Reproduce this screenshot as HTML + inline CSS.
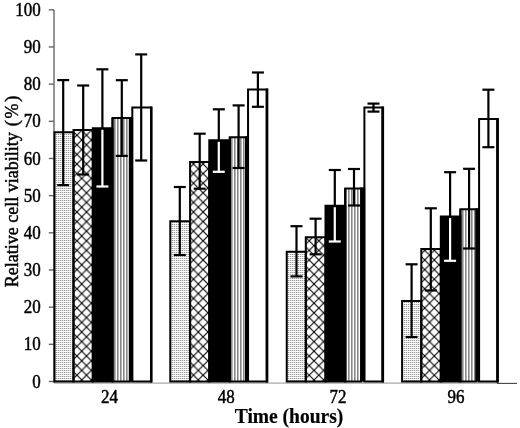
<!DOCTYPE html>
<html><head><meta charset="utf-8"><style>
html,body{margin:0;padding:0;background:#fff;}
body{width:520px;height:428px;overflow:hidden;}
svg{display:block;will-change:transform;}
text{font-family:"Liberation Serif",serif;font-size:17.5px;fill:#000;stroke:#000;stroke-width:0.45px;}
</style></head><body>
<svg width="520" height="428" viewBox="0 0 520 428">
<defs>
<pattern id="dots" patternUnits="userSpaceOnUse" width="2" height="2">
<rect width="2" height="2" fill="#fff"/><rect x="0" y="0" width="2" height="1" fill="#e0e0e0"/><rect x="0" y="0" width="1" height="1" fill="#9a9a9a"/>
</pattern>
<pattern id="cross0" patternUnits="userSpaceOnUse" width="9.6" height="9.6" x="76.90" y="0.8"><rect width="9.6" height="9.6" fill="#fff"/><path d="M-1,-1 L10.6,10.6 M10.6,-1 L-1,10.6" stroke="#000" stroke-width="1.1"/></pattern>
<pattern id="cross1" patternUnits="userSpaceOnUse" width="9.6" height="9.6" x="193.50" y="0.8"><rect width="9.6" height="9.6" fill="#fff"/><path d="M-1,-1 L10.6,10.6 M10.6,-1 L-1,10.6" stroke="#000" stroke-width="1.1"/></pattern>
<pattern id="cross2" patternUnits="userSpaceOnUse" width="9.6" height="9.6" x="309.20" y="0.8"><rect width="9.6" height="9.6" fill="#fff"/><path d="M-1,-1 L10.6,10.6 M10.6,-1 L-1,10.6" stroke="#000" stroke-width="1.1"/></pattern>
<pattern id="cross3" patternUnits="userSpaceOnUse" width="9.6" height="9.6" x="424.70" y="0.8"><rect width="9.6" height="9.6" fill="#fff"/><path d="M-1,-1 L10.6,10.6 M10.6,-1 L-1,10.6" stroke="#000" stroke-width="1.1"/></pattern>

<pattern id="stripes" patternUnits="userSpaceOnUse" width="3" height="10">
<rect width="3" height="10" fill="#fff"/><rect x="0" y="0" width="1.6" height="10" fill="#888"/>
</pattern>
</defs>
<rect width="520" height="428" fill="#fff"/>
<line x1="54" y1="9.8" x2="54" y2="383" stroke="#7a7a7a" stroke-width="1.6"/>
<line x1="54" y1="383.1" x2="498" y2="383.1" stroke="#aaa" stroke-width="1.1"/>
<line x1="497" y1="383.4" x2="517" y2="383.4" stroke="#444" stroke-width="1.1"/>
<line x1="48.8" y1="9.80" x2="54" y2="9.80" stroke="#666" stroke-width="1.4"/>
<line x1="48.8" y1="46.97" x2="54" y2="46.97" stroke="#666" stroke-width="1.4"/>
<line x1="48.8" y1="84.14" x2="54" y2="84.14" stroke="#666" stroke-width="1.4"/>
<line x1="48.8" y1="121.31" x2="54" y2="121.31" stroke="#666" stroke-width="1.4"/>
<line x1="48.8" y1="158.48" x2="54" y2="158.48" stroke="#666" stroke-width="1.4"/>
<line x1="48.8" y1="195.65" x2="54" y2="195.65" stroke="#666" stroke-width="1.4"/>
<line x1="48.8" y1="232.82" x2="54" y2="232.82" stroke="#666" stroke-width="1.4"/>
<line x1="48.8" y1="269.99" x2="54" y2="269.99" stroke="#666" stroke-width="1.4"/>
<line x1="48.8" y1="307.16" x2="54" y2="307.16" stroke="#666" stroke-width="1.4"/>
<line x1="48.8" y1="344.33" x2="54" y2="344.33" stroke="#666" stroke-width="1.4"/>
<line x1="48.8" y1="381.50" x2="54" y2="381.50" stroke="#666" stroke-width="1.4"/>
<rect x="54.50" y="132.30" width="19.00" height="249.30" fill="url(#dots)"/>
<rect x="73.50" y="129.90" width="19.30" height="251.70" fill="url(#cross0)"/>
<rect x="92.80" y="128.30" width="19.70" height="253.30" fill="#000"/>
<rect x="112.50" y="118.10" width="17.30" height="263.50" fill="url(#stripes)"/>
<rect x="132.30" y="107.50" width="18.70" height="274.10" fill="#fff"/>
<rect x="111.50" y="118.10" width="2.00" height="263.50" fill="#000"/>
<path d="M54.50,381.60 V132.30 H73.50 V381.60 Z" fill="none" stroke="#000" stroke-width="2.0"/>
<path d="M73.50,381.60 V129.90 H92.80 V381.60 Z" fill="none" stroke="#000" stroke-width="2.0"/>
<path d="M92.80,381.60 V128.30 H112.50 V381.60 Z" fill="none" stroke="#000" stroke-width="2.0"/>
<path d="M112.50,381.60 V118.10 H129.80 V381.60 Z" fill="none" stroke="#000" stroke-width="2.0"/>
<path d="M132.30,381.60 V107.50 H151.00 V381.60 Z" fill="none" stroke="#000" stroke-width="2.0"/>
<line x1="151.30" y1="106.50" x2="151.30" y2="382.60" stroke="#000" stroke-width="2.6"/>
<rect x="129.00" y="117.10" width="4.10" height="264.50" fill="#000"/>
<rect x="170.30" y="221.20" width="19.80" height="160.40" fill="url(#dots)"/>
<rect x="190.10" y="161.90" width="19.20" height="219.70" fill="url(#cross1)"/>
<rect x="209.30" y="140.30" width="20.50" height="241.30" fill="#000"/>
<rect x="229.80" y="137.20" width="16.20" height="244.40" fill="url(#stripes)"/>
<rect x="248.05" y="89.60" width="18.70" height="292.00" fill="#fff"/>
<rect x="228.80" y="137.20" width="2.00" height="244.40" fill="#000"/>
<path d="M170.30,381.60 V221.20 H190.10 V381.60 Z" fill="none" stroke="#000" stroke-width="2.0"/>
<path d="M190.10,381.60 V161.90 H209.30 V381.60 Z" fill="none" stroke="#000" stroke-width="2.0"/>
<path d="M209.30,381.60 V140.30 H229.80 V381.60 Z" fill="none" stroke="#000" stroke-width="2.0"/>
<path d="M229.80,381.60 V137.20 H246.00 V381.60 Z" fill="none" stroke="#000" stroke-width="2.0"/>
<path d="M248.05,381.60 V89.60 H266.75 V381.60 Z" fill="none" stroke="#000" stroke-width="2.0"/>
<line x1="267.05" y1="88.60" x2="267.05" y2="382.60" stroke="#000" stroke-width="2.6"/>
<rect x="245.20" y="136.20" width="3.65" height="245.40" fill="#000"/>
<rect x="286.75" y="251.70" width="19.05" height="129.90" fill="url(#dots)"/>
<rect x="305.80" y="237.20" width="19.70" height="144.40" fill="url(#cross2)"/>
<rect x="325.50" y="205.70" width="19.70" height="175.90" fill="#000"/>
<rect x="345.20" y="188.40" width="16.00" height="193.20" fill="url(#stripes)"/>
<rect x="364.40" y="107.40" width="18.10" height="274.20" fill="#fff"/>
<rect x="344.20" y="188.40" width="2.05" height="193.20" fill="#000"/>
<path d="M286.75,381.60 V251.70 H305.80 V381.60 Z" fill="none" stroke="#000" stroke-width="2.0"/>
<path d="M305.80,381.60 V237.20 H325.50 V381.60 Z" fill="none" stroke="#000" stroke-width="2.0"/>
<path d="M325.50,381.60 V205.70 H345.20 V381.60 Z" fill="none" stroke="#000" stroke-width="2.0"/>
<path d="M345.20,381.60 V188.40 H361.20 V381.60 Z" fill="none" stroke="#000" stroke-width="2.0"/>
<path d="M364.40,381.60 V107.40 H382.50 V381.60 Z" fill="none" stroke="#000" stroke-width="2.0"/>
<line x1="382.80" y1="106.40" x2="382.80" y2="382.60" stroke="#000" stroke-width="2.6"/>
<rect x="360.40" y="187.40" width="4.80" height="194.20" fill="#000"/>
<rect x="402.10" y="301.00" width="19.20" height="80.60" fill="url(#dots)"/>
<rect x="421.30" y="249.10" width="19.50" height="132.50" fill="url(#cross3)"/>
<rect x="440.80" y="216.60" width="19.60" height="165.00" fill="#000"/>
<rect x="460.40" y="209.20" width="16.00" height="172.40" fill="url(#stripes)"/>
<rect x="479.10" y="119.00" width="18.20" height="262.60" fill="#fff"/>
<rect x="459.40" y="209.20" width="2.00" height="172.40" fill="#000"/>
<path d="M402.10,381.60 V301.00 H421.30 V381.60 Z" fill="none" stroke="#000" stroke-width="2.0"/>
<path d="M421.30,381.60 V249.10 H440.80 V381.60 Z" fill="none" stroke="#000" stroke-width="2.0"/>
<path d="M440.80,381.60 V216.60 H460.40 V381.60 Z" fill="none" stroke="#000" stroke-width="2.0"/>
<path d="M460.40,381.60 V209.20 H476.40 V381.60 Z" fill="none" stroke="#000" stroke-width="2.0"/>
<path d="M479.10,381.60 V119.00 H497.30 V381.60 Z" fill="none" stroke="#000" stroke-width="2.0"/>
<line x1="497.60" y1="118.00" x2="497.60" y2="382.60" stroke="#000" stroke-width="2.6"/>
<rect x="475.60" y="208.20" width="4.30" height="173.40" fill="#000"/>
<line x1="63.20" y1="80.10" x2="63.20" y2="185.10" stroke="#000" stroke-width="2.2"/>
<line x1="57.20" y1="80.10" x2="69.20" y2="80.10" stroke="#000" stroke-width="2.2"/>
<line x1="57.20" y1="185.10" x2="69.20" y2="185.10" stroke="#000" stroke-width="2.2"/>
<line x1="83.20" y1="85.50" x2="83.20" y2="174.50" stroke="#000" stroke-width="2.2"/>
<line x1="77.20" y1="85.50" x2="89.20" y2="85.50" stroke="#000" stroke-width="2.2"/>
<line x1="77.20" y1="174.50" x2="89.20" y2="174.50" stroke="#000" stroke-width="2.2"/>
<line x1="102.40" y1="69.30" x2="102.40" y2="128.30" stroke="#000" stroke-width="2.2"/>
<line x1="96.40" y1="69.30" x2="108.40" y2="69.30" stroke="#000" stroke-width="2.2"/>
<line x1="102.40" y1="129.80" x2="102.40" y2="186.50" stroke="#fff" stroke-width="2.2"/>
<line x1="96.40" y1="186.50" x2="108.40" y2="186.50" stroke="#fff" stroke-width="2.2"/>
<line x1="121.80" y1="80.20" x2="121.80" y2="155.90" stroke="#000" stroke-width="2.2"/>
<line x1="115.80" y1="80.20" x2="127.80" y2="80.20" stroke="#000" stroke-width="2.2"/>
<line x1="115.80" y1="155.90" x2="127.80" y2="155.90" stroke="#000" stroke-width="2.2"/>
<line x1="141.20" y1="54.40" x2="141.20" y2="160.50" stroke="#000" stroke-width="2.2"/>
<line x1="135.20" y1="54.40" x2="147.20" y2="54.40" stroke="#000" stroke-width="2.2"/>
<line x1="135.20" y1="160.50" x2="147.20" y2="160.50" stroke="#000" stroke-width="2.2"/>
<line x1="179.80" y1="187.00" x2="179.80" y2="255.00" stroke="#000" stroke-width="2.2"/>
<line x1="173.80" y1="187.00" x2="185.80" y2="187.00" stroke="#000" stroke-width="2.2"/>
<line x1="173.80" y1="255.00" x2="185.80" y2="255.00" stroke="#000" stroke-width="2.2"/>
<line x1="199.70" y1="133.70" x2="199.70" y2="188.70" stroke="#000" stroke-width="2.2"/>
<line x1="193.70" y1="133.70" x2="205.70" y2="133.70" stroke="#000" stroke-width="2.2"/>
<line x1="193.70" y1="188.70" x2="205.70" y2="188.70" stroke="#000" stroke-width="2.2"/>
<line x1="218.80" y1="109.30" x2="218.80" y2="140.30" stroke="#000" stroke-width="2.2"/>
<line x1="212.80" y1="109.30" x2="224.80" y2="109.30" stroke="#000" stroke-width="2.2"/>
<line x1="218.80" y1="141.80" x2="218.80" y2="171.80" stroke="#fff" stroke-width="2.2"/>
<line x1="212.80" y1="171.80" x2="224.80" y2="171.80" stroke="#fff" stroke-width="2.2"/>
<line x1="238.60" y1="105.40" x2="238.60" y2="168.00" stroke="#000" stroke-width="2.2"/>
<line x1="232.60" y1="105.40" x2="244.60" y2="105.40" stroke="#000" stroke-width="2.2"/>
<line x1="232.60" y1="168.00" x2="244.60" y2="168.00" stroke="#000" stroke-width="2.2"/>
<line x1="257.90" y1="72.50" x2="257.90" y2="106.80" stroke="#000" stroke-width="2.2"/>
<line x1="251.90" y1="72.50" x2="263.90" y2="72.50" stroke="#000" stroke-width="2.2"/>
<line x1="251.90" y1="106.80" x2="263.90" y2="106.80" stroke="#000" stroke-width="2.2"/>
<line x1="296.50" y1="226.20" x2="296.50" y2="276.40" stroke="#000" stroke-width="2.2"/>
<line x1="290.50" y1="226.20" x2="302.50" y2="226.20" stroke="#000" stroke-width="2.2"/>
<line x1="290.50" y1="276.40" x2="302.50" y2="276.40" stroke="#000" stroke-width="2.2"/>
<line x1="315.60" y1="218.70" x2="315.60" y2="254.30" stroke="#000" stroke-width="2.2"/>
<line x1="309.60" y1="218.70" x2="321.60" y2="218.70" stroke="#000" stroke-width="2.2"/>
<line x1="309.60" y1="254.30" x2="321.60" y2="254.30" stroke="#000" stroke-width="2.2"/>
<line x1="334.80" y1="170.00" x2="334.80" y2="205.70" stroke="#000" stroke-width="2.2"/>
<line x1="328.80" y1="170.00" x2="340.80" y2="170.00" stroke="#000" stroke-width="2.2"/>
<line x1="334.80" y1="207.20" x2="334.80" y2="241.50" stroke="#fff" stroke-width="2.2"/>
<line x1="328.80" y1="241.50" x2="340.80" y2="241.50" stroke="#fff" stroke-width="2.2"/>
<line x1="354.00" y1="169.00" x2="354.00" y2="205.50" stroke="#000" stroke-width="2.2"/>
<line x1="348.00" y1="169.00" x2="360.00" y2="169.00" stroke="#000" stroke-width="2.2"/>
<line x1="348.00" y1="205.50" x2="360.00" y2="205.50" stroke="#000" stroke-width="2.2"/>
<line x1="373.50" y1="103.60" x2="373.50" y2="111.60" stroke="#000" stroke-width="2.2"/>
<line x1="367.50" y1="103.60" x2="379.50" y2="103.60" stroke="#000" stroke-width="2.2"/>
<line x1="367.50" y1="111.60" x2="379.50" y2="111.60" stroke="#000" stroke-width="2.2"/>
<line x1="411.60" y1="264.30" x2="411.60" y2="337.00" stroke="#000" stroke-width="2.2"/>
<line x1="405.60" y1="264.30" x2="417.60" y2="264.30" stroke="#000" stroke-width="2.2"/>
<line x1="405.60" y1="337.00" x2="417.60" y2="337.00" stroke="#000" stroke-width="2.2"/>
<line x1="430.80" y1="208.30" x2="430.80" y2="290.50" stroke="#000" stroke-width="2.2"/>
<line x1="424.80" y1="208.30" x2="436.80" y2="208.30" stroke="#000" stroke-width="2.2"/>
<line x1="424.80" y1="290.50" x2="436.80" y2="290.50" stroke="#000" stroke-width="2.2"/>
<line x1="450.10" y1="172.20" x2="450.10" y2="216.60" stroke="#000" stroke-width="2.2"/>
<line x1="444.10" y1="172.20" x2="456.10" y2="172.20" stroke="#000" stroke-width="2.2"/>
<line x1="450.10" y1="218.10" x2="450.10" y2="260.80" stroke="#fff" stroke-width="2.2"/>
<line x1="444.10" y1="260.80" x2="456.10" y2="260.80" stroke="#fff" stroke-width="2.2"/>
<line x1="469.10" y1="168.80" x2="469.10" y2="248.50" stroke="#000" stroke-width="2.2"/>
<line x1="463.10" y1="168.80" x2="475.10" y2="168.80" stroke="#000" stroke-width="2.2"/>
<line x1="463.10" y1="248.50" x2="475.10" y2="248.50" stroke="#000" stroke-width="2.2"/>
<line x1="488.40" y1="89.70" x2="488.40" y2="147.20" stroke="#000" stroke-width="2.2"/>
<line x1="482.40" y1="89.70" x2="494.40" y2="89.70" stroke="#000" stroke-width="2.2"/>
<line x1="482.40" y1="147.20" x2="494.40" y2="147.20" stroke="#000" stroke-width="2.2"/>
<text transform="translate(40.8,15.90) scale(0.97,1.07)" text-anchor="end">100</text>
<text transform="translate(40.8,53.07) scale(0.97,1.07)" text-anchor="end">90</text>
<text transform="translate(40.8,90.24) scale(0.97,1.07)" text-anchor="end">80</text>
<text transform="translate(40.8,127.41) scale(0.97,1.07)" text-anchor="end">70</text>
<text transform="translate(40.8,164.58) scale(0.97,1.07)" text-anchor="end">60</text>
<text transform="translate(40.8,201.75) scale(0.97,1.07)" text-anchor="end">50</text>
<text transform="translate(40.8,238.92) scale(0.97,1.07)" text-anchor="end">40</text>
<text transform="translate(40.8,276.09) scale(0.97,1.07)" text-anchor="end">30</text>
<text transform="translate(40.8,313.26) scale(0.97,1.07)" text-anchor="end">20</text>
<text transform="translate(40.8,350.43) scale(0.97,1.07)" text-anchor="end">10</text>
<text transform="translate(40.8,387.60) scale(0.97,1.07)" text-anchor="end">0</text>
<text transform="translate(109.5,402.5) scale(0.97,1.07)" text-anchor="middle">24</text>
<text transform="translate(226.2,402.5) scale(0.97,1.07)" text-anchor="middle">48</text>
<text transform="translate(338,402.5) scale(0.97,1.07)" text-anchor="middle">72</text>
<text transform="translate(456,402.5) scale(0.97,1.07)" text-anchor="middle">96</text>
<text transform="translate(289,422.9) scale(1,1.05)" text-anchor="middle" style="font-weight:bold;font-size:19.5px;stroke-width:0.2px">Time (hours)</text>
<text transform="translate(17.6,287.2) rotate(-90)" style="font-size:18px">Relative cell viability <tspan dx="1.5">(</tspan><tspan dx="1.7">%</tspan><tspan dx="1.7">)</tspan></text>
</svg>
</body></html>
